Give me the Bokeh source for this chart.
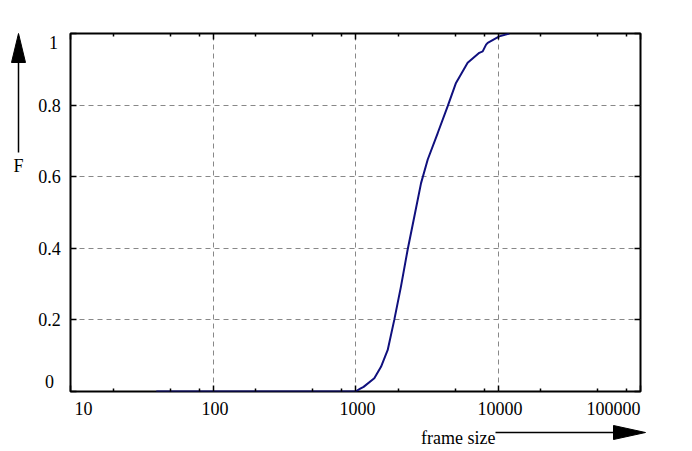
from bokeh.plotting import figure
from bokeh.models import (LogAxis, LinearAxis, FixedTicker, Label, Range1d,
                          CustomJSTickFormatter, GridBox, Column)
from bokeh.embed import file_html
from bokeh.resources import INLINE

# CDF of frame sizes
frame_size = [40, 1000, 1080, 1140, 1355, 1510, 1683, 1871, 2084, 2322, 2588,
              2884, 3213, 3776, 4437, 5072, 6123, 7394, 7810, 8250, 8469,
              10210, 12000]
cdf = [0.0, 0.0, 0.008, 0.013, 0.037, 0.069, 0.116, 0.2, 0.293, 0.396, 0.489,
       0.582, 0.648, 0.722, 0.797, 0.862, 0.918, 0.946, 0.950, 0.969, 0.974,
       0.992, 1.0]

x_ticks = [10, 100, 1000, 10000, 100000]
x_tick_labels = ["10", "100", "1000", "10000", "100000"]
y_ticks = [0, 0.2, 0.4, 0.6, 0.8, 1]
y_tick_labels = ["0", "0.2", "0.4", "0.6", "0.8", "1"]

FONT = "Liberation Serif"
FS = "18px"
W, H = 692, 451
L, R, T, B = 70, 640, 33, 391   # plot box in canvas pixels


def overlay(**kw):
    f = figure(width=W, height=H, toolbar_location=None, output_backend="svg",
               x_axis_location=None, y_axis_location=None, min_border=0, **kw)
    f.grid.visible = False
    f.outline_line_color = None
    f.background_fill_color = None
    f.border_fill_color = None
    return f


def text(**kw):
    return Label(text_font=FONT, text_font_size=FS, text_color="black", **kw)


p = figure(width=W, height=H, x_axis_type="log",
           x_range=Range1d(10, 100000), y_range=Range1d(0, 1),
           toolbar_location=None, output_backend="svg",
           min_border_left=L, min_border_right=W - R,
           min_border_top=T, min_border_bottom=H - B)

p.outline_line_color = "black"
p.outline_line_width = 2
p.background_fill_color = "white"
p.border_fill_color = "white"

x_minor = [m * 10 ** k for k in range(1, 5) for m in (2, 5, 8)]
xt = FixedTicker(ticks=x_ticks, minor_ticks=x_minor)
yt = FixedTicker(ticks=y_ticks, minor_ticks=[])

blank = CustomJSTickFormatter(code="return ''")
p.xaxis.ticker = xt
p.yaxis.ticker = yt
p.add_layout(LogAxis(ticker=xt), "above")
p.add_layout(LinearAxis(ticker=yt), "right")

for ax in p.axis:
    ax.formatter = blank
    ax.axis_line_color = None
    ax.major_tick_in = 6
    ax.major_tick_out = 0
    ax.minor_tick_in = 3
    ax.minor_tick_out = 0
    ax.major_tick_line_color = "black"
    ax.minor_tick_line_color = "black"
    ax.major_tick_line_width = 1.5
    ax.minor_tick_line_width = 1.5
    ax.major_label_standoff = 0

for g in (p.xgrid, p.ygrid):
    g.grid_line_color = "#888888"
    g.grid_line_dash = "5 4"
    g.grid_line_width = 1

p.line(frame_size, cdf, line_color="#10107e", line_width=2)

# tick labels: overlay with the same scales as the plot box, spread over the canvas
dec = (R - L) / 4
ph = B - T
tl = overlay(x_axis_type="log",
             x_range=Range1d(10 ** (1 - L / dec), 10 ** (1 + (W - L) / dec)),
             y_range=Range1d(-(H - B) / ph, 1 + T / ph))
for i, (v, s) in enumerate(zip(x_ticks, x_tick_labels)):
    off = 13 if i == 0 else (-27 if i == len(x_ticks) - 1 else 2)
    tl.add_layout(text(x=v, y=408, x_units="data", y_units="canvas", text=s,
                       x_offset=off, text_align="center", text_baseline="middle"))
for i, (v, s) in enumerate(zip(y_ticks, y_tick_labels)):
    yo = 10 if i == 0 else (-9 if i == len(y_ticks) - 1 else 0)
    xo = 4 if i == len(y_ticks) - 1 else 0
    tl.add_layout(text(x=49, y=v, x_units="canvas", y_units="data", text=s,
                       x_offset=xo, y_offset=yo, text_align="center",
                       text_baseline="middle"))

# axis titles and their arrows, in canvas pixels
ov = overlay(x_range=Range1d(0, W), y_range=Range1d(H, 0))
ov.add_layout(text(x=18, y=165, text="F", text_align="center", text_baseline="middle"))
ov.segment(x0=[18], y0=[152], x1=[18], y1=[62], line_color="black", line_width=1.5)
ov.patch([11, 25, 18], [62, 62, 33], color="black")

ov.add_layout(text(x=495, y=437, text="frame size", text_align="right",
                   text_baseline="alphabetic"))
ov.segment(x0=[495], y0=[432], x1=[615], y1=[432], line_color="black", line_width=1.5)
ov.patch([613, 613, 645], [425, 439, 432], color="black")

layout = GridBox(children=[(p, 0, 0), (Column(children=[tl]), 0, 0),
                           (Column(children=[ov]), 0, 0)])

open("out.html", "w").write(file_html(layout, INLINE))
